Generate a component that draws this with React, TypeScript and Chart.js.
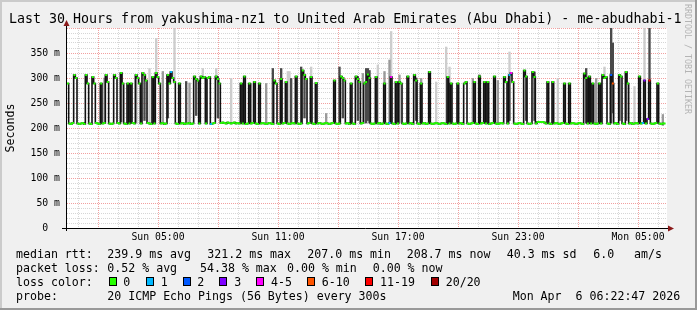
import React, { useEffect, useRef } from "react";
import { Chart, registerables } from "chart.js";

Chart.register(...registerables);

// ---------- data ----------
const START_HOUR = 0.45; // Sun 00:27
const END_HOUR = 30.45; // Mon 06:27
const STEP_MINUTES = 5;

// median rtt in ms, one value per 5-minute step (360 steps)
const median: (number | null)[] = [
  289, 209, 208, 210, 306, 300, 209, 208, 209, 210, 208, 306, 289, 209, 208, 302, 289, 210, 209, 208,
  289, 209, 210, 306, 292, 209, 208, 209, 306, 300, 210, 209, 310, 289, 209, 208, 289, 209, 289, 210,
  209, 306, 300, 289, 209, 310, 306, 295, 210, 209, 208, 302, 209, 310, 302, 289, 209, 210, 208, 209,
  306, 289, 312, 300, 292, 209, 208, 289, 209, 210, 208, 209, 209, 210, 208, 209, 303, 298, 295, 209,
  303, 300, 302, 209, 300, 302, 208, 209, 210, 303, 298, 289, 210, 211, 210, 209, 211, 210, 209, 210,
  211, 209, 210, 209, 289, 209, 303, 208, 209, 289, 209, 210, 292, 209, 208, 289, 209, 210, 209, 208,
  209, 210, 209, 208, 295, 289, 209, 208, 298, 209, 210, 292, 209, 208, 209, 210, 209, 303, 209, 208,
  209, 315, 306, 298, 209, 210, 302, 209, 208, 290, 209, 210, 209, 208, 209, 210, 209, 208, 209, 210,
  295, 209, 208, 209, 303, 300, 295, 209, 210, 208, 289, 209, 208, 303, 298, 292, 209, 210, 289, 292,
  307, 300, 209, 208, 209, 302, 209, 210, 208, 209, 289, 209, 208, 210, 302, 209, 208, 292, 209, 292,
  289, 209, 208, 209, 303, 209, 210, 208, 306, 295, 209, 208, 289, 209, 210, 208, 209, 312, 209, 208,
  209, 210, 209, 208, 209, 210, 209, 208, 302, 209, 289, 209, 208, 209, 289, 209, 210, 208, 289, 292,
  209, 208, 209, 210, 292, 209, 208, 303, 209, 210, 292, 209, 292, 208, 209, 210, 303, 209, 208, 209,
  210, 209, 302, 292, 209, 306, 310, 292, 209, 208, 209, 210, 209, 208, 315, 303, 209, 208, 209, 312,
  302, 209, 212, 212, 212, 212, 211, 209, 292, 209, 208, 292, 209, 210, 209, 208, 209, 210, 289, 209,
  208, 289, 209, 210, 209, 208, 209, 210, 209, 208, 309, 300, 209, 303, 209, 289, 209, 208, 209, 289,
  209, 306, 300, 302, 209, 208, 306, 289, 209, 210, 208, 306, 303, 209, 208, 312, 289, 209, 210, 208,
  209, 210, 209, 303, 209, 210, 295, 209, 218, 295, 209, 208, 209, 210, 289, 209, 208, 209, 209, null,
];

// [step, loss bucket] for steps whose loss colour is not "0"
const lossEvents: [number, number][] = [
  [62, 1], [86, 1], [193, 1], [194, 4], [265, 1], [266, 4],
  [326, 2], [327, 5], [345, 1], [346, 3], [348, 3], [349, 6],
];

// smoke: [step, low ms, high ms]
const smokeLight: [number, number, number][] = [
  [49, 210, 319], [53, 300, 379], [64, 292, 400], [81, 300, 319], [89, 300, 319],
  [98, 210, 299], [132, 210, 313], [133, 210, 313], [146, 300, 322], [186, 210, 326],
  [194, 302, 393], [221, 210, 292], [227, 210, 362], [229, 210, 322], [265, 306, 352],
  [294, 210, 299], [322, 300, 322], [340, 210, 283], [346, 295, 400],
];
const smokeMid: [number, number, number][] = [
  [22, 210, 300], [41, 210, 306], [57, 210, 313], [73, 210, 290], [110, 210, 289],
  [119, 210, 289], [155, 210, 229], [177, 210, 309], [190, 289, 313], [193, 210, 336],
  [199, 210, 306], [212, 210, 299], [243, 210, 299], [258, 210, 295], [317, 210, 299],
  [357, 205, 227],
];
const smokeDark: [number, number, number][] = [
  [32, 212, 310], [46, 215, 306], [60, 220, 306], [71, 210, 293], [77, 225, 298],
  [90, 220, 303], [123, 210, 319], [128, 215, 319], [134, 210, 299], [140, 210, 322],
  [142, 220, 306], [163, 210, 322], [165, 220, 300], [174, 215, 303], [179, 210, 319],
  [180, 215, 319], [181, 210, 315], [209, 215, 300], [217, 220, 312], [247, 210, 306],
  [265, 215, 306], [275, 215, 303], [280, 215, 312], [311, 210, 319], [313, 215, 303],
  [326, 210, 400], [327, 230, 370], [331, 215, 306], [335, 215, 312], [349, 295, 400],
];

const xTickHours = [5, 11, 17, 23, 29];
const xTickLabels = ["Sun 05:00", "Sun 11:00", "Sun 17:00", "Sun 23:00", "Mon 05:00"];
const yTickValues = [0, 50, 100, 150, 200, 250, 300, 350];
const yTickLabels = ["0  ", "50 m", "100 m", "150 m", "200 m", "250 m", "300 m", "350 m"];

const lossLabels = ["0", "1", "2", "3", "4-5", "6-10", "11-19", "20/20"];
const lossColors = ["#26ff00", "#00b8ff", "#0059ff", "#7e00ff", "#ff00ff", "#ff5500", "#ff0000", "#a10000"];

const titleText = "Last 30 Hours from yakushima-nz1 to United Arab Emirates (Abu Dhabi) - me-abudhabi-1";
const medianStats = ["239.9 ms avg", "321.2 ms max", "207.0 ms min", "208.7 ms now", "40.3 ms sd", "6.0", "am/s"];
const lossStats = ["0.52 % avg", "54.38 % max", "0.00 % min", "0.00 % now"];
const probeText = "20 ICMP Echo Pings (56 Bytes) every 300s";
const dateText = "Mon Apr  6 06:22:47 2026";

// ---------- helpers ----------
const MONO = '"DejaVu Sans Mono", monospace';
const stepHour = (i: number) => START_HOUR + ((i + 0.5) * STEP_MINUTES) / 60;
const lossColorAt = (i: number) => {
  const e = lossEvents.find((ev) => ev[0] === i);
  return lossColors[e ? e[1] : 0];
};
const smokeData = (list: [number, number, number][]) =>
  list.map(([s, lo, hi]) => ({ x: stepHour(s), y: [lo, hi] }));

const MINOR = "#d6d6d6";
const MAJOR = "#f2a0a0";

const decorPlugin = {
  id: "decor",
  beforeDraw(chart: any) {
    const { ctx, chartArea: a, width, height } = chart;
    ctx.save();
    ctx.fillStyle = "#f0f0f0";
    ctx.fillRect(0, 0, width, height);
    ctx.fillStyle = "#cbcbcb";
    ctx.fillRect(0, 0, width, 2);
    ctx.fillRect(0, 0, 2, height);
    ctx.fillStyle = "#999999";
    ctx.fillRect(0, height - 2, width, 2);
    ctx.fillRect(width - 2, 0, 2, height);
    ctx.fillStyle = "#ffffff";
    ctx.fillRect(a.left, a.top, a.right - a.left, a.bottom - a.top);
    ctx.restore();
  },
  afterDraw(chart: any) {
    const { ctx, chartArea: a } = chart;
    ctx.save();
    // axes
    ctx.strokeStyle = "#000";
    ctx.lineWidth = 1;
    ctx.beginPath();
    ctx.moveTo(62, a.bottom + 0.5);
    ctx.lineTo(a.right + 2, a.bottom + 0.5);
    ctx.moveTo(a.left - 0.5, a.bottom + 3);
    ctx.lineTo(a.left - 0.5, a.top - 3);
    ctx.stroke();
    ctx.fillStyle = "#8b1a1a";
    ctx.beginPath();
    ctx.moveTo(a.left - 0.5, a.top - 8);
    ctx.lineTo(a.left - 3.5, a.top - 2);
    ctx.lineTo(a.left + 2.5, a.top - 2);
    ctx.closePath();
    ctx.fill();
    ctx.beginPath();
    ctx.moveTo(a.right + 7, a.bottom + 0.5);
    ctx.lineTo(a.right + 1, a.bottom - 2.5);
    ctx.lineTo(a.right + 1, a.bottom + 3.5);
    ctx.closePath();
    ctx.fill();

    // title
    ctx.fillStyle = "#000";
    ctx.textBaseline = "alphabetic";
    ctx.textAlign = "left";
    ctx.font = `13.3px ${MONO}`;
    ctx.fillText(titleText, 9, 23);

    // y axis title
    ctx.save();
    ctx.translate(14, 128);
    ctx.rotate(-Math.PI / 2);
    ctx.textAlign = "center";
    ctx.font = `11.6px ${MONO}`;
    ctx.fillText("Seconds", 0, 0);
    ctx.restore();

    // watermark
    ctx.save();
    ctx.translate(685, 4);
    ctx.rotate(Math.PI / 2);
    ctx.textAlign = "left";
    ctx.fillStyle = "#b4b4b4";
    ctx.font = `8.3px ${MONO}`;
    ctx.fillText("RRDTOOL / TOBI OETIKER", 0, 0);
    ctx.restore();

    // legend
    ctx.font = `11.6px ${MONO}`;
    ctx.fillStyle = "#000";
    const mx = [107.3, 207.3, 307.3, 406.7, 506.7, 593.3, 634];
    ctx.fillText("median rtt:", 16, 258.3);
    medianStats.forEach((t, i) => ctx.fillText(t, mx[i], 258.3));
    const lx = [107.3, 200, 287, 372.7];
    ctx.fillText("packet loss:", 16, 272);
    lossStats.forEach((t, i) => ctx.fillText(t, lx[i], 272));
    ctx.fillText("loss color:", 16, 286);
    const bx = [108.7, 145.7, 182.7, 219.3, 256, 306.7, 365.3, 430.7];
    const tx = [123.3, 160.7, 197.3, 234.3, 271, 321.7, 380, 445.7];
    lossLabels.forEach((t, i) => {
      ctx.fillStyle = lossColors[i];
      ctx.fillRect(Math.round(bx[i]) + 0.5, 277.5, 7, 8);
      ctx.strokeStyle = "#000";
      ctx.strokeRect(Math.round(bx[i]) + 0.5, 277.5, 7, 8);
      ctx.fillStyle = "#000";
      ctx.fillText(t, tx[i], 286);
    });
    ctx.fillText("probe:", 16, 300);
    ctx.fillText(probeText, 107.3, 300);
    ctx.fillText(dateText, 512.7, 300);
    ctx.restore();
  },
};

export default function App() {
  const ref = useRef<HTMLCanvasElement | null>(null);
  useEffect(() => {
    if (!ref.current) return;
    const hourTicks: number[] = [];
    for (let h = Math.ceil(START_HOUR); h <= END_HOUR; h++) hourTicks.push(h);
    const msTicks: number[] = [];
    for (let v = 0; v <= 400; v += 10) msTicks.push(v);

    const barCommon = {
      type: "bar" as const,
      grouped: false,
      barThickness: 1.7,
      borderWidth: 0,
    };

    const chart = new Chart(ref.current, {
      type: "bar",
      data: {
        datasets: [
          {
            type: "line",
            label: "median",
            data: median.map((v, i) => ({ x: stepHour(i), y: v })) as any,
            borderColor: "#111111",
            borderWidth: 1.6,
            stepped: "middle",
            spanGaps: false,
            pointStyle: "rect",
            pointRadius: 1.45,
            pointBorderWidth: 0,
            pointBackgroundColor: (c: any) => lossColorAt(c.dataIndex),
            pointBorderColor: (c: any) => lossColorAt(c.dataIndex),
            order: 0,
          } as any,
          { ...barCommon, label: "smoke dark", data: smokeData(smokeDark) as any, backgroundColor: "#4a4a4a", order: 1 } as any,
          { ...barCommon, label: "smoke mid", data: smokeData(smokeMid) as any, backgroundColor: "#9a9a9a", order: 2 } as any,
          { ...barCommon, label: "smoke light", data: smokeData(smokeLight) as any, backgroundColor: "#cdcdcd", order: 3 } as any,
        ],
      },
      options: {
        responsive: false,
        animation: false,
        devicePixelRatio: 1,
        events: [],
        layout: { padding: { left: 0, right: 30, top: 28, bottom: 0 } },
        plugins: { legend: { display: false }, tooltip: { enabled: false }, title: { display: false } },
        scales: {
          x: {
            type: "linear",
            min: START_HOUR,
            max: END_HOUR,
            offset: false,
            afterBuildTicks: (s: any) => {
              s.ticks = hourTicks.map((v) => ({ value: v }));
            },
            afterFit: (s: any) => {
              s.height = 82;
            },
            ticks: {
              autoSkip: false,
              maxRotation: 0,
              padding: 4,
              color: "#000",
              font: { family: MONO, size: 9.8 },
              callback: (v: any) => {
                const i = xTickHours.indexOf(Math.round(Number(v)));
                return i >= 0 ? xTickLabels[i] : "";
              },
            },
            grid: {
              offset: false,
              drawTicks: false,
              lineWidth: 1,
              color: (c: any) => {
                const v = c.tick ? Math.round(c.tick.value) : null;
                if (v == null) return "transparent";
                return v % 3 === 2 ? MAJOR : MINOR;
              },
            },
            border: { display: false, dash: [1, 1] },
          },
          y: {
            type: "linear",
            min: 0,
            max: 400,
            afterBuildTicks: (s: any) => {
              s.ticks = msTicks.map((v) => ({ value: v }));
            },
            afterFit: (s: any) => {
              s.width = 67;
            },
            ticks: {
              autoSkip: false,
              padding: 7,
              color: "#000",
              font: { family: MONO, size: 9.8 },
              callback: (v: any) => {
                const i = yTickValues.indexOf(Number(v));
                return i >= 0 ? yTickLabels[i] : "";
              },
            },
            grid: {
              drawTicks: false,
              lineWidth: 1,
              color: (c: any) => {
                const v = c.tick ? c.tick.value : null;
                if (v == null || v === 0) return "transparent";
                return v % 50 === 0 ? MAJOR : MINOR;
              },
            },
            border: { display: false, dash: [1, 1] },
          },
        },
      } as any,
      plugins: [decorPlugin],
    });
    return () => chart.destroy();
  }, []);

  return (
    <div style={{ position: "absolute", left: 0, top: 0, width: 697, height: 310 }}>
      <canvas ref={ref} width={697} height={310} style={{ display: "block", width: 697, height: 310 }} />
    </div>
  );
}
